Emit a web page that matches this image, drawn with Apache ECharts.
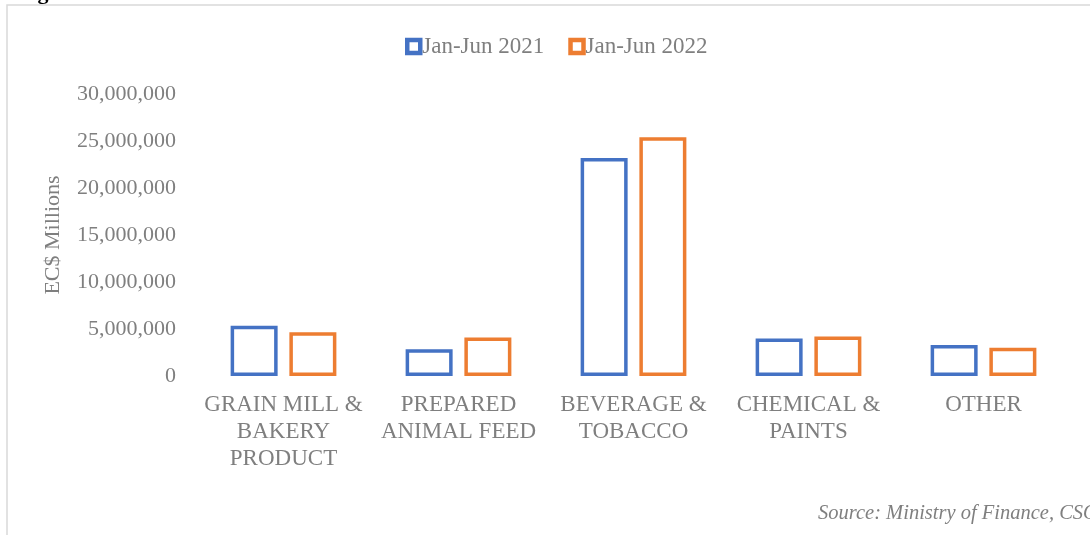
<!DOCTYPE html>
<html>
<head>
<meta charset="utf-8">
<script src="https://cdn.jsdelivr.net/npm/echarts@6/dist/echarts.min.js"></script>
<style>
html,body{margin:0;padding:0;background:#fff;}
#chart{width:1090px;height:535px;}
</style>
</head>
<body>
<div id="chart"></div>
<script>
const categories = ['GRAIN MILL &\nBAKERY\nPRODUCT', 'PREPARED\nANIMAL FEED', 'BEVERAGE &\nTOBACCO', 'CHEMICAL &\nPAINTS', 'OTHER'];
const seriesNames = ['Jan-Jun 2021', 'Jan-Jun 2022'];
const values2021 = [5350000, 2850000, 23200000, 4000000, 3300000];
const values2022 = [4650000, 4100000, 25400000, 4200000, 3000000];
const yTicks = {min: 0, max: 30000000, interval: 5000000};

const FONT = '"Liberation Serif", "DejaVu Serif", serif';
const GRAY = '#7f7f7f';
const BLUE = '#4472C4';
const ORANGE = '#ED7D31';

const chart = echarts.init(document.getElementById('chart'), null, {renderer: 'canvas'});
chart.setOption({
  animation: false,
  backgroundColor: '#fff',
  textStyle: {fontFamily: FONT},
  graphic: [
    {type: 'rect', silent: true, shape: {x: 7, y: 5, width: 1100, height: 545}, style: {fill: 'none', stroke: '#d9d9d9', lineWidth: 1.5}},
    {type: 'text', silent: true, x: 18, y: 4, style: {text: 'Fig', font: 'bold 22px ' + FONT, fill: '#000', verticalAlign: 'bottom'}},
    {type: 'text', silent: true, x: 818, y: 514, style: {text: 'Source: Ministry of Finance, CSO', font: 'italic 20.5px ' + FONT, fill: GRAY, verticalAlign: 'middle'}}
  ],
  legend: {
    data: seriesNames,
    top: 30,
    left: 400,
    itemWidth: 13,
    itemHeight: 13,
    itemGap: 24,
    itemStyle: {borderWidth: 4.5},
    textStyle: {fontFamily: FONT, fontSize: 23, color: GRAY, padding: [0, 0, 0, -3]},
    icon: 'rect'
  },
  grid: {left: 196, right: 19, top: 94, bottom: 159, containLabel: false},
  xAxis: {
    type: 'category',
    data: categories,
    axisLine: {show: false},
    axisTick: {show: false},
    axisLabel: {fontFamily: FONT, fontSize: 23, color: GRAY, lineHeight: 27, margin: 15, interval: 0}
  },
  yAxis: {
    type: 'value',
    min: yTicks.min,
    max: yTicks.max,
    interval: yTicks.interval,
    name: 'EC$ Millions',
    nameLocation: 'middle',
    nameGap: 132,
    nameRotate: 90,
    nameTextStyle: {fontFamily: FONT, fontSize: 22, color: GRAY},
    splitLine: {show: false},
    axisLine: {show: false},
    axisTick: {show: false},
    axisLabel: {
      fontFamily: FONT, fontSize: 22, color: GRAY, margin: 20,
      formatter: v => v.toLocaleString('en-US')
    }
  },
  series: [
    {
      name: seriesNames[0], type: 'bar', data: values2021,
      barWidth: 47, barGap: '25%',
      itemStyle: {color: '#fff', borderColor: BLUE, borderWidth: 3.5}
    },
    {
      name: seriesNames[1], type: 'bar', data: values2022,
      barWidth: 47, barGap: '25%',
      itemStyle: {color: '#fff', borderColor: ORANGE, borderWidth: 3.5}
    }
  ]
});
</script>
</body>
</html>
